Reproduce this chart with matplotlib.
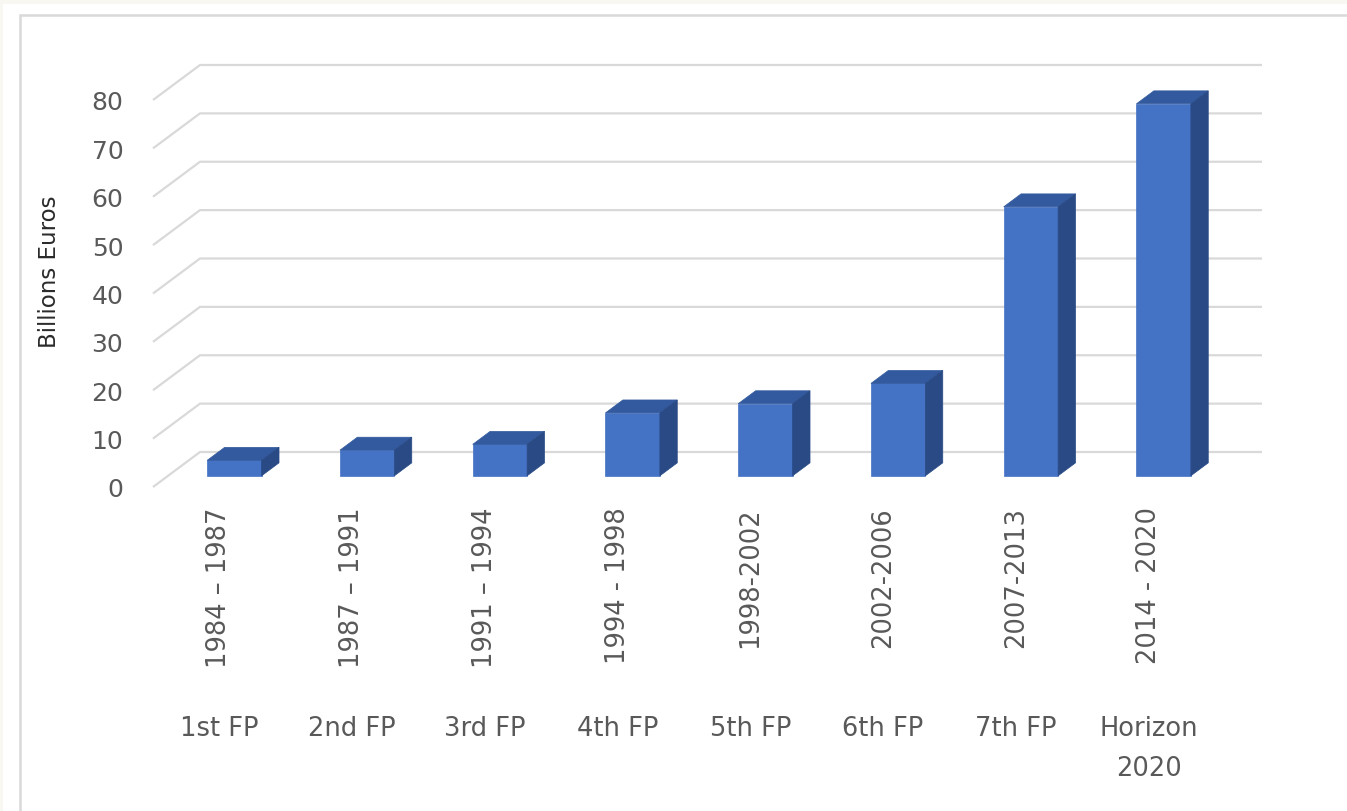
import matplotlib
matplotlib.use("Agg")
import matplotlib.pyplot as plt
from matplotlib.patches import Rectangle, Polygon
from matplotlib.transforms import blended_transform_factory

# data (billion euros per framework programme)
periods = ['1984 – 1987', '1987 – 1991', '1991 – 1994', '1994 - 1998',
           '1998-2002', '2002-2006', '2007-2013', '2014 - 2020']
programmes = ['1st FP', '2nd FP', '3rd FP', '4th FP', '5th FP', '6th FP',
              '7th FP', 'Horizon\n2020']
values = [3.2, 5.3, 6.5, 13.0, 14.9, 19.1, 55.6, 76.9]
yticks = [0, 10, 20, 30, 40, 50, 60, 70, 80]

W, H = 1347, 812
fig = plt.figure(figsize=(W / 100, H / 100), dpi=100)
fig.patch.set_facecolor('#f8f7f2')

# white card with a soft grey frame
fig.add_artist(Rectangle((3 / W, 0), 1, 1 - 5 / H, transform=fig.transFigure,
                         facecolor='white', edgecolor='none', zorder=0))
fig.add_artist(Rectangle((20 / W, -0.1), 1.2, 1 - 16 / H + 0.1,
                         transform=fig.transFigure, fill=False,
                         edgecolor='#d9d9d9', lw=1.8, zorder=1))

# pixel mapping of the plot: x = 153 + 132.75*cat, y = 488 - 4.8375*value
px_cat, px_val = 132.75, 4.8375
x0px, y0px = 153, 488
left, right, top, bottom = 140, 1275, 55, 495
ax = fig.add_axes([left / W, 1 - bottom / H, (right - left) / W, (bottom - top) / H])
ax.set_xlim((left - x0px) / px_cat, (right - x0px) / px_cat)
ax.set_ylim((y0px - bottom) / px_val, (y0px - top) / px_val)
ax.patch.set_alpha(0)
for s in ax.spines.values():
    s.set_visible(False)

# oblique depth vector (full floor depth) in data units
ddx = 47 / px_cat
ddy = 35 / px_val
n = len(values)

# gridlines: diagonal side wall + horizontal back wall
for v in yticks:
    ax.plot([0, ddx, n + ddx], [v, v + ddy, v + ddy], color='#d9d9d9',
            lw=1.6, zorder=1, solid_capstyle='butt')

# 3D bars
bw = 0.41
f, b = 0.32, 0.69
front_c, top_c, side_c = '#4472c4', '#335a9e', '#294a85'
for i, v in enumerate(values):
    xl = i + 0.5 - bw / 2 + f * ddx
    xr = xl + bw
    yb = f * ddy
    yt = yb + v
    dx = (b - f) * ddx
    dy = (b - f) * ddy
    ax.add_patch(Polygon([(xl, yb), (xr, yb), (xr, yt), (xl, yt)],
                         closed=True, facecolor=front_c, edgecolor=front_c,
                         lw=0.5, zorder=3))
    ax.add_patch(Polygon([(xl, yt), (xr, yt), (xr + dx, yt + dy), (xl + dx, yt + dy)],
                         closed=True, facecolor=top_c, edgecolor=top_c,
                         lw=0.5, zorder=3))
    ax.add_patch(Polygon([(xr, yb), (xr + dx, yb + dy), (xr + dx, yt + dy), (xr, yt)],
                         closed=True, facecolor=side_c, edgecolor=side_c,
                         lw=0.5, zorder=3))

# value axis labels
ax.set_yticks(yticks)
ax.set_yticklabels([str(t) for t in yticks])
ax.tick_params(axis='y', length=0, pad=12, labelsize=18, labelcolor='#595959')
ax.set_xticks([])

# category labels (two levels)
tr = blended_transform_factory(ax.transData, fig.transFigure)
for i in range(n):
    ax.text(i + 0.5, 1 - 507 / H, periods[i], transform=tr, rotation=90,
            ha='center', va='top', fontsize=18.5, color='#595959')
    ax.text(i + 0.5, 1 - 716 / H, programmes[i], transform=tr,
            ha='center', va='top', fontsize=18.5, color='#595959',
            linespacing=1.7)

fig.text(50 / W, 1 - 272 / H, 'Billions Euros', rotation=90, ha='center',
         va='center', fontsize=16.5, color='#2b2b2b')

fig.savefig('out.png', dpi=100, facecolor=fig.get_facecolor())
